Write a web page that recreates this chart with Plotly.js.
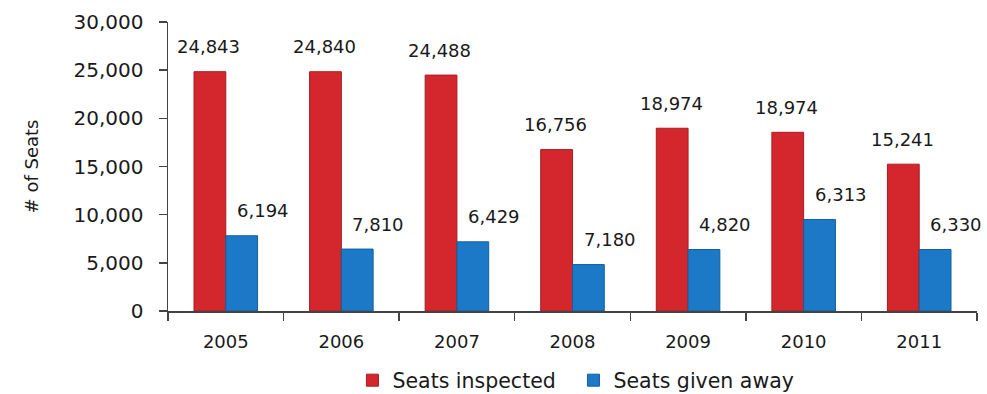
<!DOCTYPE html>
<html>
<head>
<meta charset="utf-8">
<script src="https://cdn.plot.ly/plotly-3.0.1.min.js"></script>
<style>html,body{margin:0;padding:0;background:#fff;}#chart{width:987px;height:394px;}</style>
</head>
<body>
<div id="chart"></div>
<script>
var years = ['2005', '2006', '2007', '2008', '2009', '2010', '2011'];
var seatsInspected = [24843, 24840, 24488, 16756, 18974, 18550, 15241];
var seatsGivenAway = [7810, 6429, 7180, 4820, 6380, 9500, 6380];
var inspectedLabels = ['24,843', '24,840', '24,488', '16,756', '18,974', '18,974', '15,241'];
var givenAwayLabels = ['6,194', '7,810', '6,429', '7,180', '4,820', '6,313', '6,330'];
var yTicks = [0, 5000, 10000, 15000, 20000, 25000, 30000];
var yTickLabels = ['0', '5,000', '10,000', '15,000', '20,000', '25,000', '30,000'];

var FONT = 'DejaVu Sans, Verdana, sans-serif';
var TXT = '#1a1a1a';
var RED = '#d3262d';
var BLUE = '#1b79c7';

var traces = [
  {type: 'bar', name: 'Seats inspected', x: years, y: seatsInspected,
   marker: {color: RED, line: {color: '#a81d22', width: 1}}, hoverinfo: 'skip'},
  {type: 'bar', name: 'Seats given away', x: years, y: seatsGivenAway,
   marker: {color: BLUE, line: {color: '#145e9c', width: 1}}, hoverinfo: 'skip'}
];

var annotations = [];
years.forEach(function (yr, i) {
  // category index i on the category axis
  annotations.push({x: i, y: seatsInspected[i], xref: 'x', yref: 'y', text: inspectedLabels[i],
    showarrow: false, xshift: -17, yshift: 25, yanchor: 'middle', xanchor: 'center',
    font: {family: FONT, size: 18, color: TXT}});
  annotations.push({x: i, y: seatsGivenAway[i], xref: 'x', yref: 'y', text: givenAwayLabels[i],
    showarrow: false, xshift: 37, yshift: 25, yanchor: 'middle', xanchor: 'center',
    font: {family: FONT, size: 18, color: TXT}});
});

var layout = {
  width: 987, height: 394,
  margin: {l: 168, r: 10, t: 22, b: 83, autoexpand: false},
  paper_bgcolor: '#fff', plot_bgcolor: '#fff',
  font: {family: FONT, color: TXT},
  barmode: 'group', bargap: 0.45, bargroupgap: 0,
  showlegend: true,
  legend: {orientation: 'h', x: 0.228, xanchor: 'left', y: -0.24, yanchor: 'middle',
    font: {family: FONT, size: 20.5, color: TXT}, itemwidth: 30, entrywidth: 176,
    entrywidthmode: 'pixels', traceorder: 'normal'},
  xaxis: {type: 'category', range: [-0.5, years.length - 0.5], showline: true, linecolor: '#444', linewidth: 1.5,
    ticks: 'outside', tickson: 'boundaries', ticklen: 8, tickcolor: '#444', tickwidth: 1.5,
    showgrid: false, zeroline: false, tickangle: 0, ticklabelstandoff: 14, automargin: false,
    tickfont: {family: FONT, size: 18, color: TXT}, fixedrange: true},
  yaxis: {range: [0, 30000], tickvals: yTicks, ticktext: yTickLabels,
    showline: true, linecolor: '#444', linewidth: 1.5, ticks: 'outside', ticklen: 8,
    tickcolor: '#444', tickwidth: 1.5, showgrid: false, zeroline: false,
    tickfont: {family: FONT, size: 20, color: TXT}, ticklabelstandoff: 11,
    title: {text: '# of Seats', font: {family: FONT, size: 18, color: TXT}, standoff: 30},
    automargin: false, fixedrange: true},
  annotations: annotations
};

Plotly.newPlot('chart', traces, layout, {displayModeBar: false, staticPlot: true});
</script>
</body>
</html>
